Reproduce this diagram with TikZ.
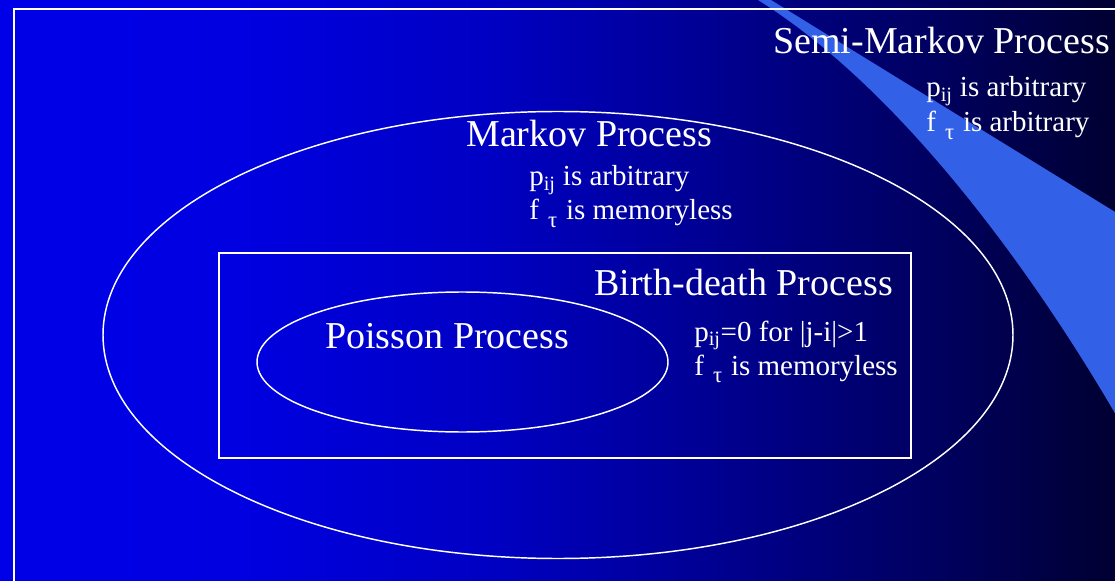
\documentclass[tikz,border=0pt]{standalone}
\usepackage{fontspec}
\setmainfont{Liberation Serif}
\usepackage{xcolor}
\definecolor{slide-blue}{RGB}{0,0,232}
\definecolor{slide-blue2}{RGB}{0,0,224}
\definecolor{slide-mid}{RGB}{0,0,195}
\definecolor{slide-dark}{RGB}{0,0,135}
\definecolor{slide-darker}{RGB}{0,0,90}
\definecolor{slide-night}{RGB}{0,0,50}
\definecolor{swoosh-blue}{RGB}{50,96,230}
\pgfdeclarehorizontalshading{slidebg}{100bp}{color(0bp)=(slide-blue); color(25bp)=(slide-blue);
  color(36bp)=(slide-blue2); color(47bp)=(slide-mid); color(59bp)=(slide-dark);
  color(68bp)=(slide-darker); color(75bp)=(slide-night); color(100bp)=(slide-night)}
% "f tau" with the tau set low, as on the slide
\newcommand{\ftau}{f\hspace{0.32em}\raisebox{-0.26em}{\fontsize{17}{17}\selectfont τ}\hspace{0.3em}}

\begin{document}
\begin{tikzpicture}[x=0.75pt, y=-0.75pt,
    bigtext/.style={font=\fontsize{28.5}{34}\selectfont, text=white, inner sep=0pt, anchor=base west},
    smalltext/.style={font=\fontsize{21.75}{26}\selectfont, text=white, inner sep=0pt, anchor=base west},
    outline/.style={draw=white, line width=1.1pt}]
  \useasboundingbox (0,0) rectangle (1115,581);
  \clip (0,0) rectangle (1115,581);

  % slide background and swoosh
  \shade[shading=slidebg] (0,0) rectangle (1115,581);
  \fill[swoosh-blue] (758,0) .. controls (918,100) and (1055,310) .. (1116,415)
    -- (1120,415) -- (1120,215) -- (771,0) -- cycle;
  \draw[draw=white, line width=1.2pt] (14,9) rectangle (1130,600);

  % nested classes
  \draw[outline] (558,335) ellipse [x radius=455, y radius=223.5];
  \draw[outline] (219,253) rectangle (911,458);
  \draw[outline] (462.5,362) ellipse [x radius=205.5, y radius=70];

  \node[bigtext] (semi) at (773,54) {Semi-Markov Process};
  \node[smalltext] (semi-p) at (926,97) {p\textsubscript{ij} is arbitrary};
  \node[smalltext] (semi-f) at (926,132) {\ftau is arbitrary};

  \node[bigtext] (markov) at (466,147) {Markov Process};
  \node[smalltext] (markov-p) at (529,186) {p\textsubscript{ij} is arbitrary};
  \node[smalltext] (markov-f) at (529,220) {\ftau is memoryless};

  \node[bigtext] (bd) at (594,296) {Birth-death Process};
  \node[smalltext] (bd-p) at (694,341) {p\textsubscript{ij}=0 for |j-i|>1};
  \node[smalltext] (bd-f) at (694,375) {\ftau is memoryless};

  \node[bigtext] (poisson) at (325,349) {Poisson Process};
\end{tikzpicture}
\end{document}
